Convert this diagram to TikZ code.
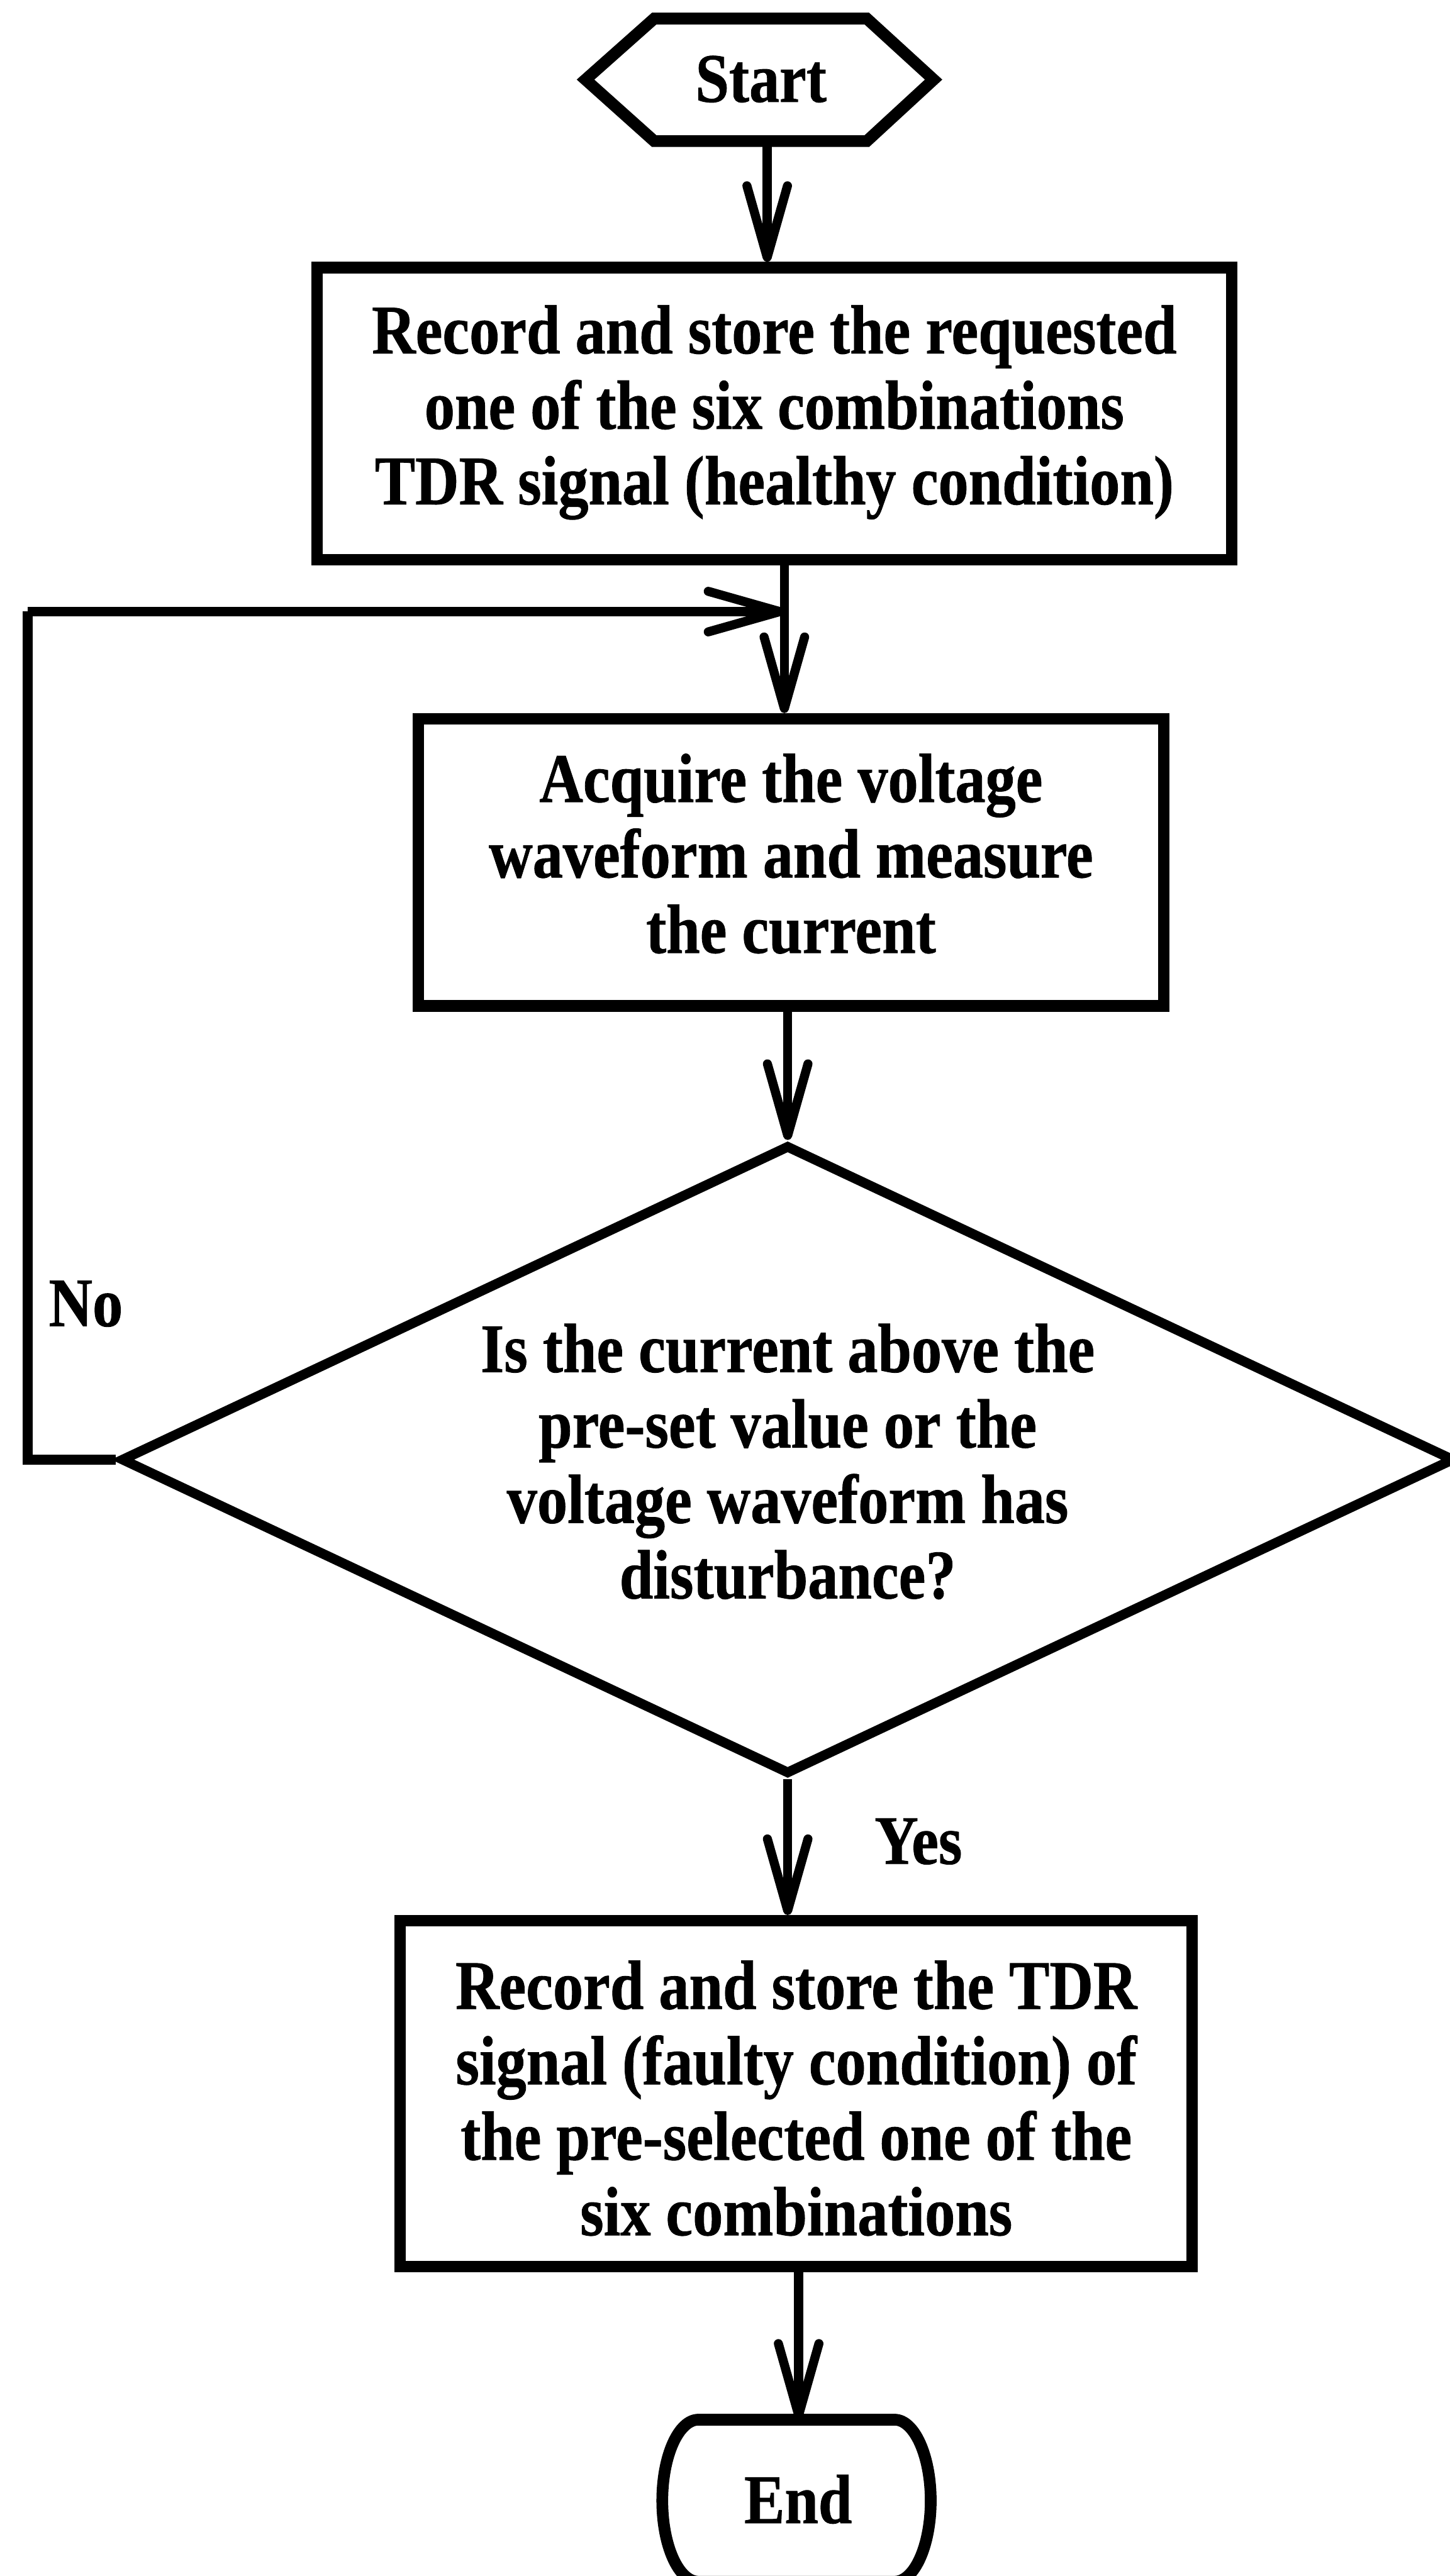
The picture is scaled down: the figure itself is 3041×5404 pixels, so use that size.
\documentclass[tikz,border=0pt]{standalone}
\usepackage{fontspec}
\setmainfont{Liberation Serif}[BoldFeatures={FakeBold=0.8}]
\usetikzlibrary{arrows.meta,shapes.geometric}
% condensed multi-line label
\newcommand\flowlines[1]{\scalebox{0.87}[1]{\begin{tabular}{@{}c@{}}#1\end{tabular}}}
\begin{document}
\begin{tikzpicture}[x=0.01cm,y=-0.01cm,
  every node/.style={inner sep=0pt, font=\fontsize{41.5}{45}\selectfont\bfseries},
  procbox/.style={draw, rectangle, line width=6.8pt},
  decision/.style={draw, diamond, line width=5.8pt},
  outline/.style={line width=7pt, line join=miter},
  conn/.style={line width=5.4pt,
    -{Straight Barb[length=1.5cm, width=0.85cm, round]}},
  wire/.style={line width=6pt, line join=miter}]
\useasboundingbox (0,0) rectangle (3041,5404);

% start terminal (hexagon)
\node (start) at (1596,166) {\scalebox{0.87}[1]{Start}};
\draw[outline] (1228,167) -- (1372,39) -- (1818,39) -- (1958,167)
  -- (1818,296) -- (1372,296) -- cycle;
\coordinate (sb) at (1609,296);

% process boxes
\node[procbox, minimum width=19.18cm, minimum height=6.13cm] (b1) at (1624,868)
  {\flowlines{Record and store the requested\\one of the six combinations\\TDR signal (healthy condition)}};
\node[procbox, minimum width=15.62cm, minimum height=6.02cm] (b2) at (1659,1809)
  {\flowlines{Acquire the voltage\\waveform and measure\\the current}};

% decision
\node[decision, minimum width=27.96cm, minimum height=13.2cm] (dec) at (1652,3062) {};
\node (dectext) at (1652,3084)
  {\flowlines{Is the current above the\\pre-set value or the\\voltage waveform has\\disturbance?}};

% final process box, its text sits slightly low
\node[procbox, minimum width=16.6cm, minimum height=7.25cm] (b3) at (1670,4392) {};
\node (b3text) at (1670,4420)
  {\flowlines{Record and store the TDR\\signal (faulty condition) of\\the pre-selected one of the\\six combinations}};

% end terminal (rounded ends, bottom runs off the page)
\node (end) at (1674,5243) {\scalebox{0.87}[1]{End}};
\draw[outline] (1465,5076) -- (1876,5076)
  arc[start angle=-90, end angle=90, x radius=76, y radius=170]
  -- (1465,5416)
  arc[start angle=90, end angle=270, x radius=76, y radius=170] -- cycle;
\coordinate (et) at (1675,5076);

% connectors
\coordinate (ax) at (1645,0);
\coordinate (lc) at (58,1283);
\draw[conn] (sb) -- (sb |- b1.north);
\draw[conn] (b1.south -| ax) -- (b2.north -| ax);
\draw[conn] (b2.south -| dec.north) -- (dec.north);
\draw[conn] (dec.south) -- (dec.south |- b3.north);
\draw[conn] (b3.south -| et) -- (et);
\draw[wire] (dec.west) -| (lc);
\draw[conn] (lc) -- (lc -| ax);

% branch labels
\node (nolabel) at (180,2735) {\scalebox{0.87}[1]{No}};
\node (yeslabel) at (1926,3863) {\scalebox{0.87}[1]{Yes}};
\end{tikzpicture}
\end{document}
